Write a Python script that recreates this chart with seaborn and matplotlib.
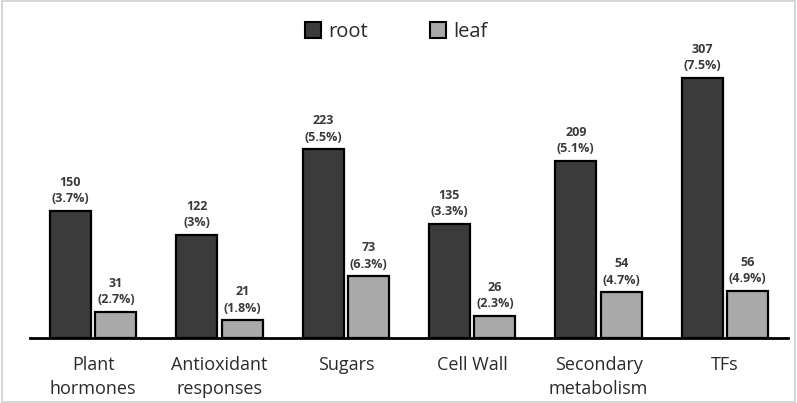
import matplotlib
matplotlib.use("Agg")
import matplotlib.pyplot as plt
import matplotlib.patches as mpatches
import seaborn as sns
import pandas as pd

categories = ['Plant\nhormones', 'Antioxidant\nresponses', 'Sugars', 'Cell Wall',
              'Secondary\nmetabolism', 'TFs']
root_counts = [150, 122, 223, 135, 209, 307]
leaf_counts = [31, 21, 73, 26, 54, 56]
root_pct = ['3.7%', '3%', '5.5%', '3.3%', '5.1%', '7.5%']
leaf_pct = ['2.7%', '1.8%', '6.3%', '2.3%', '4.7%', '4.9%']

df = pd.DataFrame({
    'category': categories * 2,
    'tissue': ['root'] * len(categories) + ['leaf'] * len(categories),
    'count': root_counts + leaf_counts,
})

sns.set_style("white")
plt.rcParams['font.family'] = ['Open Sans', 'DejaVu Sans']

fig = plt.figure(figsize=(7.97, 4.03), dpi=100)
ax = fig.add_axes([30 / 797, 65 / 403, 758 / 797, 288 / 403])

palette = {'root': '#3b3b3b', 'leaf': '#a9a9a9'}
sns.barplot(data=df, x='category', y='count', hue='tissue', palette=palette,
            width=0.72, gap=0.1, edgecolor='black', linewidth=1.6,
            saturation=1, ax=ax, legend=False)

# labels over bars
for cont, counts, pcts in zip(ax.containers, [root_counts, leaf_counts], [root_pct, leaf_pct]):
    labels = [f"{c}\n({p})" for c, p in zip(counts, pcts)]
    ax.bar_label(cont, labels=labels, padding=4, fontsize=9, fontweight='bold',
                 color='#3a3a3a', linespacing=1.35)

ax.set_xlim(-0.5, 5.5)
ax.set_ylim(0, 340)
ax.set_xlabel('')
ax.set_ylabel('')
ax.set_yticks([])
ax.tick_params(axis='x', length=0, pad=13, labelsize=13, labelcolor='#2a2a2a')
for lab in ax.get_xticklabels():
    lab.set_linespacing(1.45)
for s in ['top', 'left', 'right']:
    ax.spines[s].set_visible(False)
ax.spines['bottom'].set_linewidth(2)
ax.spines['bottom'].set_color('black')

handles = [mpatches.Patch(facecolor=palette[k], edgecolor='black', linewidth=1.5, label=k)
           for k in ['root', 'leaf']]
fig.legend(handles=handles, loc='center', bbox_to_anchor=(396 / 797, 1 - 32 / 403),
           ncol=2, frameon=False, fontsize=14.5, handlelength=0.8, handleheight=0.8,
           handletextpad=0.35, columnspacing=3.1, labelcolor='#2a2a2a')

# light border round the figure
fig.patches.append(mpatches.Rectangle((0.002, 0.003), 0.996, 0.994, transform=fig.transFigure,
                                      fill=False, edgecolor='#cfcfcf', linewidth=1.2))

fig.savefig('out.png', dpi=100)
